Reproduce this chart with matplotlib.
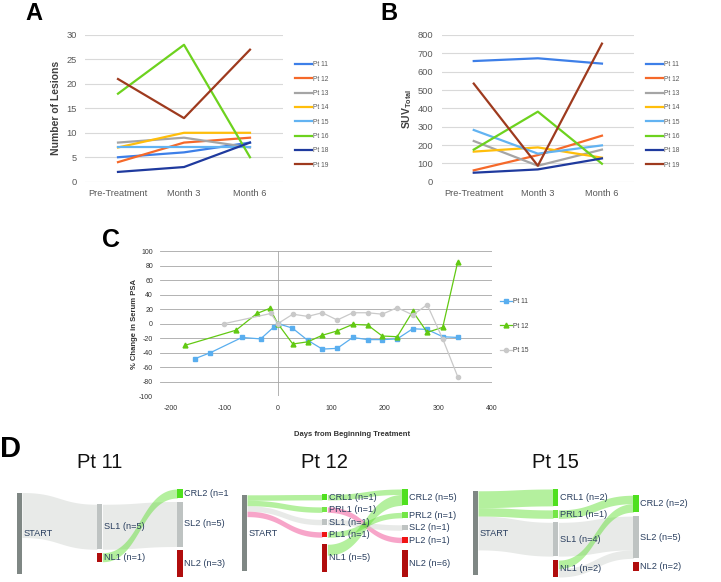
import matplotlib
matplotlib.use('Agg')
import matplotlib.pyplot as plt
from matplotlib.patches import Rectangle
import numpy as np

plt.rcParams['font.family'] = ['Liberation Sans', 'DejaVu Sans']
plt.rcParams['mathtext.fontset'] = 'custom'
plt.rcParams['mathtext.rm'] = 'Liberation Sans'
plt.rcParams['mathtext.bf'] = 'Liberation Sans:bold'
plt.rcParams['axes.unicode_minus'] = False

# ---- panel A / B data ----
visits = ['Pre-Treatment', 'Month 3', 'Month 6']
patients = ['Pt 11', 'Pt 12', 'Pt 13', 'Pt 14', 'Pt 15', 'Pt 16', 'Pt 18', 'Pt 19']
pt_colors = ['#3D7FE8', '#F5692A', '#A5A5A5', '#FFBE0B', '#62B3F2', '#6DD21E', '#1F3A9E', '#9E3A1E']

lesions_pt11 = [5, 6, 8]
lesions_pt12 = [4, 8, 9]
lesions_pt13 = [8, 9, 7]
lesions_pt14 = [7, 10, 10]
lesions_pt15 = [7, 7, 7]
lesions_pt16 = [18, 28, 5]
lesions_pt18 = [2, 3, 8]
lesions_pt19 = [21, 13, 27]

suv_pt11 = [658, 673, 644]
suv_pt12 = [62, 145, 251]
suv_pt13 = [222, 87, 175]
suv_pt14 = [164, 187, 131]
suv_pt15 = [282, 153, 198]
suv_pt16 = [175, 382, 98]
suv_pt18 = [49, 67, 127]
suv_pt19 = [535, 87, 753]

# ---- panel C data ----
psa_days_pt11 = [-154, -126, -67, -32, -8, 0, 27, 56, 83, 111, 140, 168, 195, 223, 252, 279, 308, 336]
psa_pct_pt11 = [-48, -40, -19, -21, -5, 0, -6, -23, -35, -34, -19, -22, -22, -21, -7, -8, -18, -19]
psa_days_pt12 = [-174, -78, -39, -15, 0, 28, 56, 83, 111, 140, 168, 195, 223, 252, 279, 308, 336]
psa_pct_pt12 = [-30, -9, 14, 21, 0, -28, -25, -16, -10, -1, -2, -17, -18, 17, -12, -5, 85]
psa_days_pt15 = [-100, -13, 0, 28, 56, 83, 111, 140, 168, 195, 223, 252, 279, 308, 336]
psa_pct_pt15 = [0, 14, 0, 13, 10, 15, 5, 15, 15, 13, 22, 12, 26, -21, -73]

# ---- panel D data (sankey) ----
pt11_labels = ['START', 'SL1 (n=5)', 'NL1 (n=1)', 'CRL2 (n=1', 'SL2 (n=5)', 'NL2 (n=3)']
pt11_stage = [0, 1, 1, 2, 2, 2]
pt11_kind = ['START', 'SL', 'NL', 'CRL', 'SL', 'NL']
pt11_src = [0, 0, 0, 1, 2]
pt11_tgt = [1, 2, 5, 4, 3]
pt11_val = [5, 1, 3, 5, 1]

pt12_labels = ['START', 'CRL1 (n=1)', 'PRL1 (n=1)', 'SL1 (n=1)', 'PL1 (n=1)', 'NL1 (n=5)',
               'CRL2 (n=5)', 'PRL2 (n=1)', 'SL2 (n=1)', 'PL2 (n=1)', 'NL2 (n=6)']
pt12_stage = [0, 1, 1, 1, 1, 1, 2, 2, 2, 2, 2]
pt12_kind = ['START', 'CRL', 'PRL', 'SL', 'PL', 'NL', 'CRL', 'PRL', 'SL', 'PL', 'NL']
pt12_src = [0, 0, 0, 0, 0, 0, 1, 2, 3, 4, 5]
pt12_tgt = [1, 2, 3, 4, 5, 10, 6, 9, 8, 7, 6]
pt12_val = [1, 1, 1, 1, 5, 5, 1, 1, 1, 1, 2]

pt15_labels = ['START', 'CRL1 (n=2)', 'PRL1 (n=1)', 'SL1 (n=4)', 'NL1 (n=2)',
               'CRL2 (n=2)', 'SL2 (n=5)', 'NL2 (n=2)']
pt15_stage = [0, 1, 1, 1, 1, 2, 2, 2]
pt15_kind = ['START', 'CRL', 'PRL', 'SL', 'NL', 'CRL', 'SL', 'NL']
pt15_src = [0, 0, 0, 0, 0, 2, 3, 4, 4]
pt15_tgt = [1, 2, 3, 4, 7, 5, 6, 5, 6]
pt15_val = [2, 1, 4, 2, 1, 1, 4, 1, 1]

node_colors = {'START': '#7F8784', 'SL': '#BEC3C2', 'CRL': '#4FE01E', 'PRL': '#74E646',
               'PL': '#F01414', 'NL': '#B00D0D'}
link_colors = {'SL': (0.80, 0.82, 0.80, 0.45), 'CRL': (0.35, 0.87, 0.16, 0.45),
               'PRL': (0.35, 0.87, 0.16, 0.45), 'PL': (0.94, 0.30, 0.58, 0.5)}

W, H = 721, 582
fig = plt.figure(figsize=(W / 100, H / 100), dpi=100)


def fbox(x0, y0, x1, y1):
    return [x0 / W, 1 - y1 / H, (x1 - x0) / W, (y1 - y0) / H]


# background axes in pixel coordinates for panel D
axD = fig.add_axes([0, 0, 1, 1])
axD.set_xlim(0, W)
axD.set_ylim(H, 0)
axD.axis('off')


def line_panel(box, series, ylim, ystep, ylabel_text, ylabel_x, legend_x):
    ax = fig.add_axes(fbox(*box))
    for name, vals, col in zip(patients, series, pt_colors):
        ax.plot(range(len(visits)), vals, color=col, lw=1.6, label=name)
    ax.set_xlim(-0.5, 2.5)
    ax.set_ylim(*ylim)
    ax.set_yticks(np.arange(ylim[0], ylim[1] + 1, ystep))
    ax.set_xticks(range(len(visits)))
    ax.set_xticklabels(visits)
    ax.yaxis.grid(True, color='#D9D9D9', lw=0.8)
    ax.set_axisbelow(True)
    for s in ax.spines.values():
        s.set_visible(False)
    ax.tick_params(length=0, labelsize=6.7, colors='#595959')
    ax.tick_params(axis='y', pad=6)
    ax.tick_params(axis='x', pad=5)
    fig.text(ylabel_x / W, 1 - (box[1] + box[3]) / 2 / H, ylabel_text, rotation=90,
             ha='center', va='center', fontsize=7.5, fontweight='bold', color='#404040')
    ax.legend(loc='center left', bbox_to_anchor=(legend_x / W, 1 - 115 / H),
              bbox_transform=fig.transFigure, frameon=False, fontsize=4.8,
              handlelength=2.5, handletextpad=0.15, labelspacing=1.1,
              borderpad=0, borderaxespad=0, labelcolor='#595959')
    return ax


line_panel((85, 35, 283, 181.7),
           [lesions_pt11, lesions_pt12, lesions_pt13, lesions_pt14,
            lesions_pt15, lesions_pt16, lesions_pt18, lesions_pt19],
           (0, 30), 5, 'Number of Lesions', 56, 295)
line_panel((441.7, 35, 634, 181.7),
           [suv_pt11, suv_pt12, suv_pt13, suv_pt14,
            suv_pt15, suv_pt16, suv_pt18, suv_pt19],
           (0, 800), 100, r'SUV$_{\mathbf{Total}}$', 407, 646)

# ---- panel C ----
axC = fig.add_axes(fbox(160, 251, 492, 396.3))
axC.plot(psa_days_pt11, psa_pct_pt11, color='#59AEEF', marker='s', ms=3, lw=0.9, label='Pt 11')
axC.plot(psa_days_pt12, psa_pct_pt12, color='#62C912', marker='^', ms=3.5, lw=0.9, label='Pt 12')
axC.plot(psa_days_pt15, psa_pct_pt15, color='#C9C9C9', marker='o', ms=3, lw=0.9, label='Pt 15')
axC.set_xlim(-220, 400)
axC.set_ylim(-100, 100)
axC.set_xticks(range(-200, 401, 100))
axC.set_yticks(range(-100, 101, 20))
axC.yaxis.grid(True, color='#A6A6A6', lw=0.6)
axC.axvline(0, color='#A6A6A6', lw=0.6, zorder=1)
axC.set_axisbelow(True)
for s in axC.spines.values():
    s.set_visible(False)
axC.tick_params(length=0, labelsize=5, colors='#333333')
axC.tick_params(axis='y', pad=5)
axC.tick_params(axis='x', pad=6)
fig.text(134 / W, 1 - 323.7 / H, '% Change in Serum PSA', rotation=90, ha='center',
         va='center', fontsize=5.5, fontweight='bold', color='#333333')
fig.text(352 / W, 1 - 435 / H, 'Days from Beginning Treatment', ha='center',
         va='center', fontsize=5.5, fontweight='bold', color='#333333')
axC.legend(loc='center left', bbox_to_anchor=(500 / W, 1 - 326 / H),
           bbox_transform=fig.transFigure, frameon=False, fontsize=4.8,
           handlelength=1.8, handletextpad=0.1, labelspacing=2.6,
           borderpad=0, borderaxespad=0, labelcolor='#404040')

# ---- panel D ----
SK_W, SK_H, SK_CY, NODE_W = 166, 88, 533, 5.3


def bezier_band(ax, x0, x1, a0, a1, b0, b1, color):
    t = np.linspace(0, 1, 60)
    xm = (x0 + x1) / 2
    xs = (1 - t) ** 3 * x0 + 3 * (1 - t) ** 2 * t * xm + 3 * (1 - t) * t ** 2 * xm + t ** 3 * x1
    s = 3 * t ** 2 - 2 * t ** 3
    top = a0 + (a1 - a0) * s
    bot = b0 + (b1 - b0) * s
    ax.fill_between(xs, top, bot, color=color, lw=0)


def draw_sankey(ax, labels, stage, kind, src, tgt, val, left, pad, title):
    n = len(labels)
    stage = np.array(stage)
    inflow = np.zeros(n)
    outflow = np.zeros(n)
    for s, t, v in zip(src, tgt, val):
        outflow[s] += v
        inflow[t] += v
    size = np.maximum(inflow, outflow)
    ncol = stage.max() + 1
    cols = [np.where(stage == c)[0] for c in range(ncol)]
    k = min((SK_H - (len(idx) - 1) * pad) / size[idx].sum() for idx in cols)
    ytop = np.zeros(n)
    for idx in cols:
        y = SK_CY - (size[idx].sum() * k + (len(idx) - 1) * pad) / 2
        for i in idx:
            ytop[i] = y
            y += size[i] * k + pad
    xnode = left + stage * (SK_W - NODE_W) / (ncol - 1)

    nl = len(src)
    y_out = np.zeros(nl)
    y_in = np.zeros(nl)
    for i in range(n):
        off = ytop[i]
        for j in sorted([j for j in range(nl) if src[j] == i], key=lambda j: ytop[tgt[j]]):
            y_out[j] = off
            off += val[j] * k
        off = ytop[i]
        for j in sorted([j for j in range(nl) if tgt[j] == i], key=lambda j: ytop[src[j]]):
            y_in[j] = off
            off += val[j] * k
    for j in range(nl):
        tk = kind[tgt[j]]
        if tk not in link_colors:
            continue
        bezier_band(ax, xnode[src[j]] + NODE_W, xnode[tgt[j]],
                    y_out[j], y_in[j], y_out[j] + val[j] * k, y_in[j] + val[j] * k,
                    link_colors[tk])
    for i in range(n):
        ax.add_patch(Rectangle((xnode[i], ytop[i]), NODE_W, size[i] * k,
                               color=node_colors[kind[i]], lw=0))
        ax.text(xnode[i] + NODE_W + 1.5, ytop[i] + size[i] * k / 2, labels[i],
                ha='left', va='center', fontsize=6.6, color='#2A3F5F')
    ax.text(left + SK_W / 2, 462.7, title, ha='center', va='center', fontsize=14.5,
            color='#111111')


draw_sankey(axD, pt11_labels, pt11_stage, pt11_kind, pt11_src, pt11_tgt, pt11_val,
            16.7, 3.5, 'Pt 11')
draw_sankey(axD, pt12_labels, pt12_stage, pt12_kind, pt12_src, pt12_tgt, pt12_val,
            241.7, 7, 'Pt 12')
draw_sankey(axD, pt15_labels, pt15_stage, pt15_kind, pt15_src, pt15_tgt, pt15_val,
            472.7, 4, 'Pt 15')

# panel letters
fig.text(25 / W, 1 - 13.5 / H, 'A', fontsize=17, fontweight='bold', va='center')
fig.text(380 / W, 1 - 13.5 / H, 'B', fontsize=17, fontweight='bold', va='center')
fig.text(102 / W, 1 - 240 / H, 'C', fontsize=18, fontweight='bold', va='center')
fig.text(0, 1 - 449 / H, 'D', fontsize=21, fontweight='bold', va='center')

fig.savefig('out.png', dpi=100)
